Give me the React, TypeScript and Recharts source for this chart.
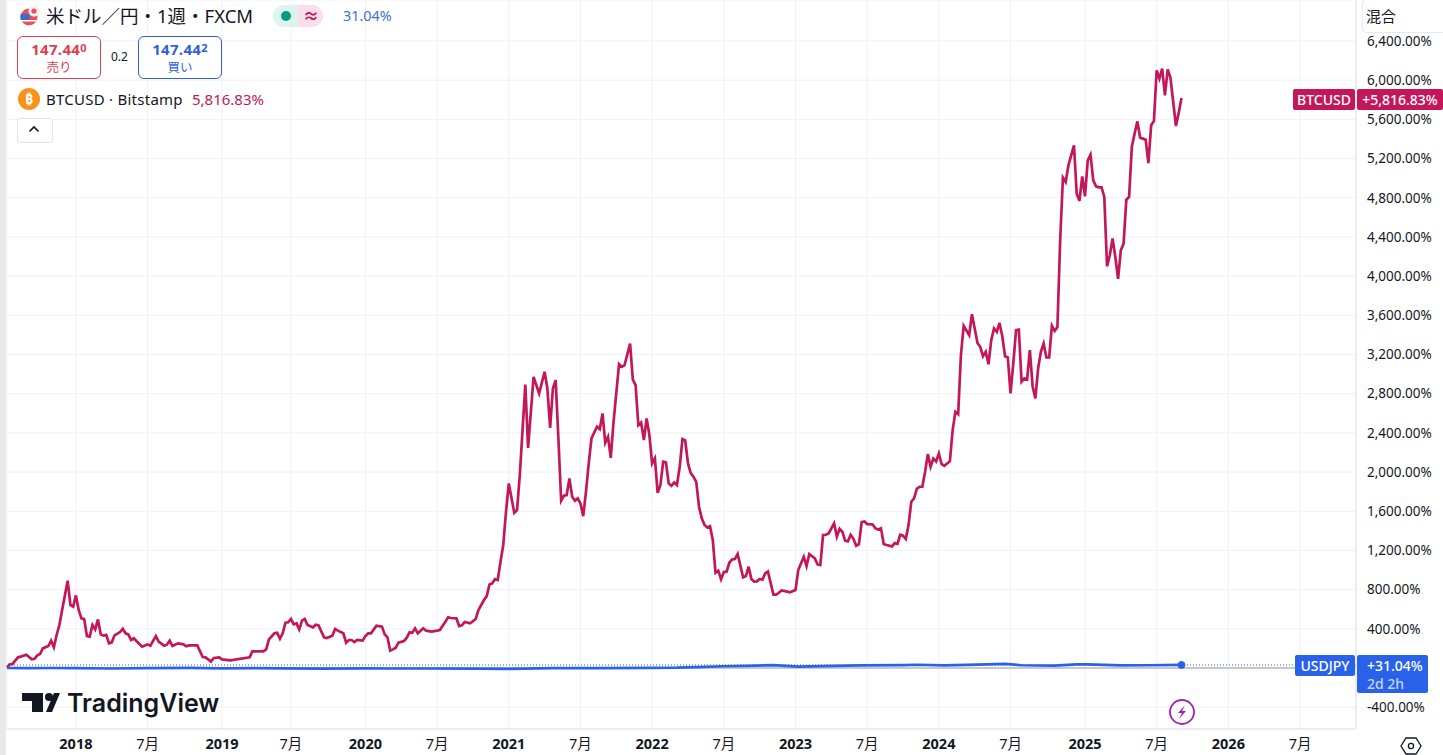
import { CartesianGrid, Line, LineChart, ReferenceDot, ReferenceLine, XAxis, YAxis } from "recharts";

// week number since the first bar (mid 2017), one row per 10 points
const btcWeeks = [
  0, 1, 2, 4, 5, 7, 9, 10, 11, 12,
  13, 15, 16, 17, 18, 19, 20, 22, 23, 24,
  25, 26, 27, 28, 29, 30, 31, 32, 33, 34,
  35, 36, 37, 38, 39, 41, 42, 43, 44, 45,
  46, 48, 49, 51, 52, 54, 55, 57, 58, 59,
  60, 62, 64, 65, 66, 69, 71, 72, 74, 75,
  77, 78, 81, 88, 89, 91, 93, 94, 95, 97,
  98, 99, 100, 101, 102, 103, 104, 105, 106, 107,
  108, 109, 111, 112, 113, 115, 116, 118, 119, 120,
  122, 123, 124, 125, 126, 127, 129, 130, 131, 132,
  134, 136, 137, 138, 139, 140, 141, 142, 144, 145,
  146, 147, 148, 149, 151, 152, 154, 156, 157, 159,
  160, 161, 163, 164, 165, 166, 168, 170, 171, 173,
  174, 175, 176, 177, 178, 179, 180, 181, 182, 184,
  185, 186, 188, 189, 191, 193, 195, 196, 197, 198,
  199, 200, 201, 202, 203, 204, 205, 206, 207, 208,
  209, 210, 211, 212, 214, 215, 216, 217, 218, 219,
  220, 222, 223, 224, 226, 227, 228, 229, 230, 231,
  232, 233, 234, 235, 236, 237, 238, 239, 240, 241,
  242, 243, 244, 245, 246, 247, 248, 249, 250, 251,
  252, 253, 254, 255, 256, 257, 258, 259, 260, 261,
  262, 263, 264, 265, 267, 268, 269, 270, 271, 272,
  273, 274, 275, 276, 278, 279, 281, 283, 284, 286,
  287, 289, 290, 291, 293, 294, 295, 296, 297, 298,
  300, 301, 302, 303, 304, 305, 306, 307, 308, 309,
  310, 311, 312, 314, 315, 316, 317, 318, 319, 321,
  322, 323, 324, 325, 326, 327, 328, 329, 330, 331,
  332, 333, 334, 335, 336, 337, 338, 339, 340, 342,
  343, 344, 345, 346, 347, 349, 350, 351, 352, 353,
  354, 355, 356, 357, 358, 359, 360, 361, 362, 363,
  364, 365, 366, 367, 368, 369, 370, 371, 372, 373,
  374, 375, 376, 377, 378, 379, 380, 381, 382, 383,
  384, 385, 387, 388, 389, 390, 391, 392, 393, 394,
  395, 396, 397, 398, 399, 400, 401, 402, 403, 404,
  405, 406, 407, 408, 409, 410, 411, 412, 413, 414,
  415, 416, 417, 418, 419, 420, 421, 422, 423, 424,
  425, 426,
];
const btcPct = [
  7, 37, 41, 109, 116, 136, 88, 95, 129, 143,
  200, 224, 279, 211, 337, 439, 592, 891, 643, 626,
  741, 592, 507, 500, 326, 320, 439, 394, 496, 343,
  330, 337, 252, 262, 333, 367, 401, 354, 343, 286,
  303, 245, 218, 241, 228, 326, 269, 228, 238, 279,
  224, 252, 241, 221, 231, 231, 112, 109, 65, 102,
  109, 88, 78, 109, 170, 170, 170, 190, 292, 354,
  360, 299, 354, 462, 466, 500, 445, 456, 394, 483,
  500, 439, 415, 442, 435, 313, 306, 330, 398, 381,
  354, 258, 286, 286, 265, 286, 279, 326, 354, 354,
  432, 422, 343, 313, 177, 190, 207, 258, 275, 309,
  364, 360, 405, 354, 405, 381, 371, 381, 388, 473,
  517, 510, 507, 428, 435, 469, 456, 500, 592, 694,
  734, 853, 864, 908, 898, 1085, 1255, 1595, 1884, 1584,
  1612, 1969, 2893, 2247, 2972, 2802, 3023, 2853, 2451, 2853,
  2938, 2343, 1707, 1758, 1765, 1935, 1748, 1707, 1731, 1680,
  1550, 1799, 2088, 2343, 2462, 2438, 2598, 2298, 2360, 2145,
  2513, 3101, 3074, 3091, 3312, 2944, 2887, 2479, 2506, 2326,
  2547, 2377, 2088, 2139, 1788, 1867, 2105, 2098, 1884, 1860,
  1894, 1867, 2054, 2336, 2322, 2088, 1990, 1952, 1900, 1646,
  1527, 1459, 1435, 1448, 1306, 972, 993, 904, 979, 983,
  1074, 1108, 1112, 1163, 925, 938, 1034, 908, 881, 884,
  908, 901, 966, 986, 748, 748, 792, 779, 772, 796,
  1000, 1136, 1040, 1163, 1119, 1057, 1050, 1357, 1360, 1374,
  1476, 1340, 1421, 1391, 1299, 1292, 1360, 1319, 1248, 1265,
  1489, 1496, 1469, 1465, 1425, 1414, 1425, 1265, 1255, 1241,
  1275, 1268, 1360, 1350, 1316, 1459, 1697, 1731, 1829, 1850,
  1850, 2000, 2183, 2054, 2137, 2108, 2190, 2080, 2064, 2111,
  2428, 2615, 2591, 3193, 3492, 3397, 3611, 3465, 3318, 3278,
  3182, 3227, 3100, 3346, 3465, 3431, 3522, 3386, 3182, 3169,
  2802, 3108, 3448, 3454, 2921, 2955, 2944, 3244, 2876, 2751,
  3057, 3227, 3312, 3169, 3169, 3492, 3441, 3480, 4366, 5005,
  4961, 5131, 5335, 4842, 4767, 5018, 4814, 5182, 5239, 4978,
  4916, 4906, 4906, 4808, 4100, 4213, 4383, 4196, 3971, 4264,
  4332, 4780, 4808, 5324, 5454, 5579, 5413, 5403, 5392, 5154,
  5539, 5583, 6100, 6015, 6117, 5844, 6110, 6025, 5777, 5532,
  5668, 5816.83,
];

const usdWeeks = [0, 8, 16, 25, 38, 50, 66, 78, 90, 100, 115, 130, 138, 150, 170, 182, 198, 215, 232, 243, 250, 260, 272, 278, 287, 300, 310, 325, 330, 340, 352, 362, 368, 380, 388, 392, 404, 414, 426];
const usdPct = [0, -1, 0, -1, -5, -1, 1, -3, -1, -3, -6, -3, -5, -5, -7, -8, -2, -2, 2, 3, 8, 18, 25, 30, 15, 22, 26, 30, 33, 27, 35, 42, 28, 25, 37, 38, 26, 28, 31.04];

const xTicks = [25, 51, 78, 103, 130, 156, 182, 208, 234, 260, 286, 312, 338, 364, 391, 417, 443, 469];
const xLabels = ["2018", "7月", "2019", "7月", "2020", "7月", "2021", "7月", "2022", "7月", "2023", "7月", "2024", "7月", "2025", "7月", "2026", "7月"];
const yTicks = [6400, 6000, 5600, 5200, 4800, 4400, 4000, 3600, 3200, 2800, 2400, 2000, 1600, 1200, 800, 400, 0, -400];

const btcData = btcWeeks.map((week, i) => ({ week, pct: btcPct[i] }));
const usdData = usdWeeks.map((week, i) => ({ week, pct: usdPct[i] }));

const sans = "'Noto Sans', 'Noto Sans CJK JP', sans-serif";
const BTC = "#c2185b";
const USD = "#2962e8";

// the 0 line keeps its grid line, its label sits under the USDJPY tag in the original
const formatPct = (v: number) =>
  v === 0 ? "" : v.toLocaleString("en-US", { minimumFractionDigits: 2, maximumFractionDigits: 2 }) + "%";

const XTick = ({ x, y, payload }: any) => {
  const label = xLabels[xTicks.indexOf(payload.value)];
  const isYear = label !== "7月";
  return (
    <text x={x} y={y + 12} textAnchor="middle" fontFamily={sans} fontSize={14.5} fontWeight={isYear ? 700 : 400} fill="#131722">
      {label}
    </text>
  );
};

const Abs = ({ x, y, w, h, style, children }: any) => (
  <div style={{ position: "absolute", left: x, top: y, width: w, height: h, ...style }}>{children}</div>
);

const Text = ({ x, y, size, color, weight, spacing, children }: any) => (
  <div style={{ position: "absolute", left: x, top: y, transform: "translateY(-50%)", fontSize: size, color: color || "#131722", fontWeight: weight || 400, letterSpacing: spacing || 0, whiteSpace: "nowrap", lineHeight: 1 }}>
    {children}
  </div>
);

const Tag = ({ x, y, w, h, color, children }: any) => (
  <div style={{ position: "absolute", left: x, top: y, width: w, height: h, background: color, color: "#fff", fontSize: 14, fontWeight: 500, lineHeight: h + "px", textAlign: "center", borderRadius: 2, whiteSpace: "nowrap" }}>
    {children}
  </div>
);

const PriceBox = ({ x, color, main, small, label }: any) => (
  <div style={{ position: "absolute", left: x, top: 36, width: 82, height: 41, border: `1px solid ${color}`, borderRadius: 6, color, textAlign: "center", background: "#fff" }}>
    <div style={{ fontSize: 15, fontWeight: 700, marginTop: 3, lineHeight: "16px", letterSpacing: 0.3 }}>
      {main}
      <span style={{ fontSize: 11, fontWeight: 700, verticalAlign: 3 }}>{small}</span>
    </div>
    <div style={{ fontSize: 12.5, lineHeight: "16px", marginTop: 3 }}>{label}</div>
  </div>
);

export default function App() {
  return (
    <div style={{ position: "fixed", left: 0, top: 0, width: 1443, height: 755, background: "#fff", overflow: "hidden", fontFamily: sans }}>
      <LineChart width={1443} height={755} margin={{ top: 0, right: 0, bottom: 0, left: 7 }}>
        <CartesianGrid stroke="#f0f1f4" strokeWidth={1} />
        <XAxis
          dataKey="week"
          type="number"
          domain={[0, 489.3]}
          ticks={xTicks}
          interval={0}
          height={26}
          tick={<XTick />}
          tickLine={false}
          axisLine={{ stroke: "#dfe1e6" }}
          allowDuplicatedCategory={false}
        />
        <YAxis
          orientation="right"
          type="number"
          domain={[-622.6, 6818]}
          ticks={yTicks}
          interval={0}
          width={87}
          tickLine={false}
          tickMargin={5}
          tickFormatter={formatPct}
          tick={{ fontFamily: sans, fontSize: 13.5, fill: "#131722" }}
          axisLine={{ stroke: "#dfe1e6" }}
        />
        <ReferenceLine y={0} stroke="#9598a1" strokeWidth={1} />
        <ReferenceLine y={31.04} stroke={USD} strokeWidth={1} strokeDasharray="1 2" />
        <Line data={btcData} dataKey="pct" type="linear" stroke={BTC} strokeWidth={2.7} dot={false} isAnimationActive={false} />
        <Line data={usdData} dataKey="pct" type="linear" stroke={USD} strokeWidth={2.7} dot={false} isAnimationActive={false} />
        <ReferenceDot x={426} y={31.04} r={3.5} fill={USD} stroke={USD} />
      </LineChart>

      {/* left window edge */}
      <Abs x={0} y={0} w={6} h={755} style={{ background: "#e9e9ea" }} />

      {/* header */}
      <svg style={{ position: "absolute", left: 17, top: 4 }} width={26} height={24}>
        <circle cx={12} cy={13} r={8.5} fill="#e8505b" />
        <rect x={3.5} y={10} width={9} height={6} fill="#3c6fc4" />
        <rect x={3.5} y={16} width={17} height={1.5} fill="#fff" />
        <circle cx={17} cy={7} r={5.5} fill="#eef1f6" />
        <circle cx={17} cy={7} r={2.6} fill="#e8505b" />
      </svg>
      <Text x={46} y={16} size={18.5}>米ドル／円・1週・FXCM</Text>
      <Abs x={273} y={5} w={25} h={22} style={{ background: "#dcf3ee", borderRadius: "11px 0 0 11px" }} />
      <Abs x={298} y={5} w={25} h={22} style={{ background: "#fbdfe8", borderRadius: "0 11px 11px 0" }} />
      <Abs x={281} y={11} w={10} h={10} style={{ background: "#089981", borderRadius: "50%" }} />
      <Text x={303} y={16} size={16} color={BTC} weight={700}>≈</Text>
      <Text x={343} y={16} size={14.4} color="#3d6fd6">31.04%</Text>

      <PriceBox x={17} color="#e0404e" main="147.44" small="0" label="売り" />
      <Text x={111} y={57} size={12}>0.2</Text>
      <PriceBox x={138} color="#2f5fdc" main="147.44" small="2" label="買い" />

      <Abs x={18} y={88} w={22} h={22} style={{ background: "#f7931a", borderRadius: "50%", color: "#fff", textAlign: "center", fontSize: 14, fontWeight: 700, lineHeight: "22px" }}>₿</Abs>
      <Text x={46} y={98.5} size={15} spacing={0.25}>BTCUSD · Bitstamp</Text>
      <Text x={192} y={98.5} size={15} color={BTC}>5,816.83%</Text>

      <Abs x={17} y={118} w={34} h={23} style={{ border: "1px solid #e0e3eb", borderRadius: 3, background: "#fff" }} />
      <svg style={{ position: "absolute", left: 28, top: 125 }} width={12} height={8}>
        <path d="M1.5 6.5 L6 2 L10.5 6.5" fill="none" stroke="#131722" strokeWidth={1.6} />
      </svg>

      {/* scale mode button */}
      <Abs x={1357} y={0} w={86} h={36} style={{ background: "#fff" }} />
      <Abs x={1362} y={-1} w={90} h={32} style={{ border: "1px solid #e6e8ee", borderRadius: 4, background: "#fff" }} />
      <Text x={1366} y={16} size={15}>混合</Text>

      {/* price tags */}
      <Tag x={1293} y={89} w={62} h={21} color={BTC}>BTCUSD</Tag>
      <Tag x={1357} y={89} w={86} h={21} color={BTC}>+5,816.83%</Tag>
      <Tag x={1295} y={655} w={60} h={21} color={USD}>USDJPY</Tag>
      <Abs x={1357} y={655} w={71} h={38} style={{ background: USD, borderRadius: 2, textAlign: "left", paddingLeft: 10, color: "#fff", fontSize: 14, fontWeight: 500, lineHeight: "18px", paddingTop: 2, boxSizing: "border-box" }}>
        <div>+31.04%</div>
        <div style={{ color: "#c5d3fb" }}>2d 2h</div>
      </Abs>

      {/* logo */}
      <svg style={{ position: "absolute", left: 20, top: 690 }} width={44} height={24}>
        <path d="M2 3 H23 V22 H12 V11 H2 Z" fill="#131722" />
        <circle cx={29} cy={7} r={4} fill="#131722" />
        <path d="M26 22 L34 3 H40 L32 22 Z" fill="#131722" />
      </svg>
      <Text x={67} y={703} size={25} weight={600}>
        <span style={{ fontFamily: "Inter" }}>TradingView</span>
      </Text>

      {/* lightning badge */}
      <svg style={{ position: "absolute", left: 1168, top: 698 }} width={28} height={28}>
        <circle cx={14} cy={14} r={12} fill="#fff" stroke="#9c27b0" strokeWidth={1.8} />
        <path d="M17 7 L10 15 H14 L11 21 L18 13 H14 Z" fill="#9c27b0" />
      </svg>

      {/* settings */}
      <svg style={{ position: "absolute", left: 1399, top: 736 }} width={24} height={20}>
        <path d="M7 2 H17 L22 10 L17 18 H7 L2 10 Z" fill="none" stroke="#131722" strokeWidth={1.3} />
        <circle cx={12} cy={10} r={2.6} fill="none" stroke="#131722" strokeWidth={1.3} />
      </svg>
    </div>
  );
}
